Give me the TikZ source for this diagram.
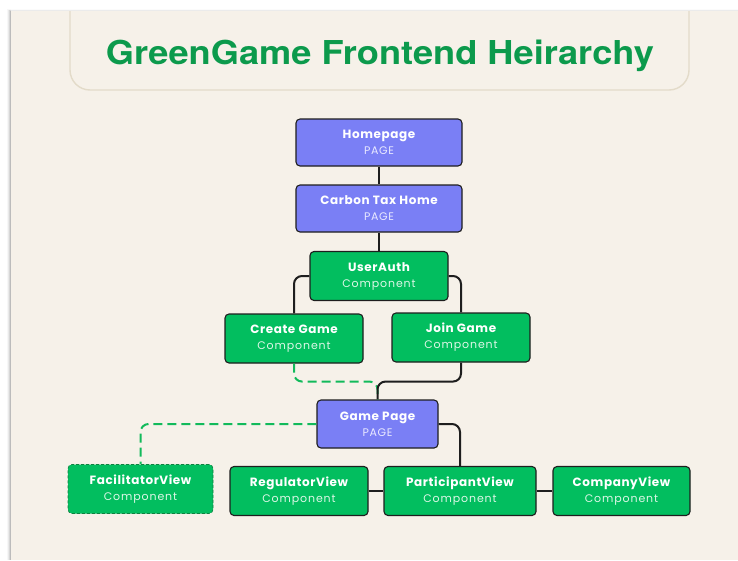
\documentclass[tikz,border=0pt]{standalone}
\usepackage{fontspec}
\setmainfont{Poppins}
\newfontfamily\headfont{TeX Gyre Heros}

\definecolor{paper}{HTML}{F6F1E9}
\definecolor{frameline}{HTML}{E3DBC9}
\definecolor{headgreen}{HTML}{0C9A4C}
\definecolor{pagefill}{HTML}{7A7FF5}
\definecolor{compfill}{HTML}{02BE5F}
\definecolor{edgeline}{HTML}{1E1E1E}
\definecolor{pagesub}{HTML}{E9E9FF}
\definecolor{compsub}{HTML}{DDF7E7}
\definecolor{dashgreen}{HTML}{12BA5B}

\newcommand{\nodename}[1]{{\fontsize{12}{16}\selectfont\bfseries\addfontfeatures{LetterSpace=5}#1}}
\newcommand{\pagesubline}[1]{{\fontsize{11}{16}\selectfont\color{pagesub}\addfontfeatures{LetterSpace=6}#1}}
\newcommand{\compsubline}[1]{{\fontsize{11}{16}\selectfont\color{compsub}\addfontfeatures{LetterSpace=8}#1}}

\tikzset{
  box/.style={rectangle, rounded corners=4pt, draw=edgeline, line width=1.1pt,
              align=center, inner sep=0pt, text=white,
              font=\fontsize{12}{16}\selectfont},
  pagebox/.style={box, fill=pagefill, minimum width=166pt, minimum height=47pt},
  compbox/.style={box, fill=compfill, minimum width=138pt, minimum height=49pt},
  link/.style={draw=edgeline, line width=2pt, rounded corners=8pt},
  dashlink/.style={draw=dashgreen, line width=2pt, rounded corners=8pt,
                   dash pattern=on 9pt off 5pt},
}

\begin{document}
\begin{tikzpicture}[x=1pt, y=-1pt]
  \useasboundingbox (0,0) rectangle (738,560);
  \fill[white] (0,0) rectangle (738,560);

  % soft shadow along the left and top edges of the sheet
  \foreach \o/\a in {4/0.03, 3/0.05, 2/0.08, 1/0.12} {
    \fill[black, opacity=\a] (11-\o,11-\o*0.4) rectangle (11,560);
    \fill[black, opacity=\a*0.5] (11,11-\o*0.4) rectangle (738,11);
  }
  \fill[paper] (11,11) rectangle (738,560);

  % heading panel
  \begin{scope}
    \clip (11,11) rectangle (738,560);
    \draw[frameline, line width=1.4pt, fill=paper, rounded corners=20pt]
      (70,-30) rectangle (689,90);
  \end{scope}
  \node[text=headgreen, inner sep=0pt, anchor=base] (title) at (380,64)
    {\resizebox{548pt}{24.5pt}{\headfont\bfseries\fontsize{32}{36}\selectfont GreenGame Frontend Heirarchy}};

  % pages and components
  \node[pagebox] (home)   at (379,142.5) {\nodename{Homepage}\\\pagesubline{PAGE}};
  \node[pagebox] (carbon) at (379,208.5) {\nodename{Carbon Tax Home}\\\pagesubline{PAGE}};
  \node[compbox] (auth)   at (379,276)   {\nodename{UserAuth}\\\compsubline{Component}};
  \node[compbox] (create) at (294,338.5) {\nodename{Create Game}\\\compsubline{Component}};
  \node[compbox] (join)   at (461,337.5) {\nodename{Join Game}\\\compsubline{Component}};
  \node[pagebox, minimum width=121pt, minimum height=48pt]
                 (game)   at (377.5,424) {\nodename{Game Page}\\\pagesubline{PAGE}};
  \node[compbox, minimum width=145pt, draw=dashgreen!70!black, line width=0.7pt,
        dash pattern=on 3pt off 2pt]
                 (facil)  at (140.5,489) {\nodename{FacilitatorView}\\\compsubline{Component}};
  \node[compbox] (reg)    at (299,491)   {\nodename{RegulatorView}\\\compsubline{Component}};
  \node[compbox, minimum width=152pt]
                 (part)   at (460,491)   {\nodename{ParticipantView}\\\compsubline{Component}};
  \node[compbox, minimum width=137pt]
                 (comp)   at (621.5,491) {\nodename{CompanyView}\\\compsubline{Component}};

  % connectors
  \draw[link] (home) -- (carbon);
  \draw[link] (carbon) -- (auth);
  \draw[link] (auth.west) -| (create.north);
  \draw[link] (auth.east) -| (join.north);
  \draw[dashlink] (create.south) -- ++(0,18) -| (game.north);
  \draw[link] (join.south) -- ++(0,19) -| (game.north);
  \draw[dashlink] (game.west) -| (facil.north);
  \draw[link] (game.east) -| (part.north);
  \draw[link] (reg.east) -- (part.west);
  \draw[link] (part.east) -- (comp.west);
\end{tikzpicture}
\end{document}
